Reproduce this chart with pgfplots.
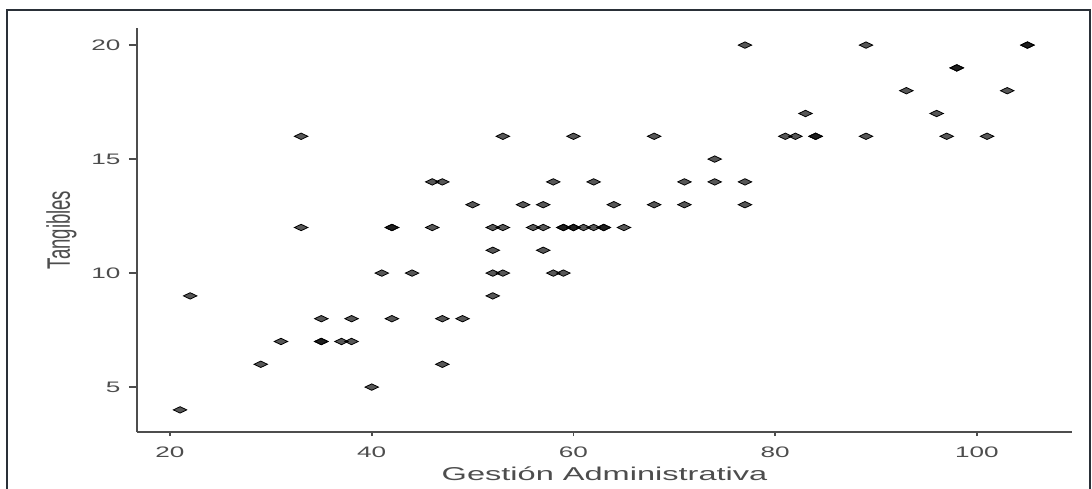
\documentclass[border=0pt]{standalone}
\usepackage{fontspec}
\setmainfont{Liberation Sans}
\usepackage{graphicx}
\usepackage{pgfplots}
\pgfplotsset{compat=1.18}
\definecolor{axgray}{HTML}{4D4D4D}
\definecolor{frame}{HTML}{2A3038}
\begin{document}
\begin{tikzpicture}
\useasboundingbox (-68.5pt,-28pt) rectangle (477.5pt,216pt);
\begin{axis}[
  scale only axis, width=467.5pt, height=202pt,
  xmin=16.73, xmax=109.42, ymin=3.03, ymax=20.75,
  axis lines*=left,
  axis line style={color=axgray, line width=0.8pt},
  xtick={20,40,60,80,100}, ytick={5,10,15,20},
  tick align=outside,
  xtick style={color=axgray, line width=0.8pt, /pgfplots/major tick length=2pt},
  ytick style={color=axgray, line width=0.8pt, /pgfplots/major tick length=4pt},
  /pgf/number format/assume math mode=true,
  xticklabel={\scalebox{1.72}[1]{\pgfmathprintnumber{\tick}}},
  yticklabel={\scalebox{1.72}[1]{\pgfmathprintnumber{\tick}}},
  ticklabel style={font=\fontsize{7.6}{9}\selectfont, text=axgray},
  yticklabel style={anchor=east, inner sep=0pt, xshift=-3.8pt},
  xticklabel style={anchor=north, inner sep=0pt, yshift=-3pt},
  xlabel={\scalebox{1.75}[1]{Gestión Administrativa}},
  ylabel={\scalebox{1}[1.75]{Tangibles}},
  label style={font=\fontsize{9.3}{11}\selectfont, text=axgray},
  xlabel style={at={(axis description cs:0.5,-0.1188)}, anchor=base, inner sep=0pt},
  ylabel style={at={(axis description cs:-0.0717,0.5)}, anchor=base, inner sep=0pt},
  clip=false,
]
\addplot[only marks, mark=diamond*, mark size=1.6pt,
  mark options={xscale=2.8, draw=none, fill=black, fill opacity=0.66}]
table {
x y
21 4
22 9
29 6
31 7
33 16
33 12
35 8
35 7
35 7
37 7
38 7
38 8
40 5
41 10
42 12
42 12
42 8
44 10
46 14
47 14
46 12
47 8
47 6
49 8
50 13
52 12
52 11
52 10
52 9
53 16
53 12
53 10
55 13
56 12
57 12
57 13
57 11
58 14
58 10
59 10
59 12
59 12
60 12
60 12
60 16
61 12
62 12
62 14
63 12
63 12
64 13
65 12
68 16
68 13
71 14
71 13
74 15
74 14
77 20
77 14
77 13
81 16
82 16
83 17
84 16
84 16
89 20
89 16
93 18
96 17
97 16
98 19
98 19
101 16
103 18
105 20
105 20
};
\end{axis}
\draw[color=frame, line width=1pt] (-65pt,-33pt) -- (-65pt,211pt) -- (476.5pt,211pt) -- (476.5pt,-33pt);
\end{tikzpicture}
\end{document}
